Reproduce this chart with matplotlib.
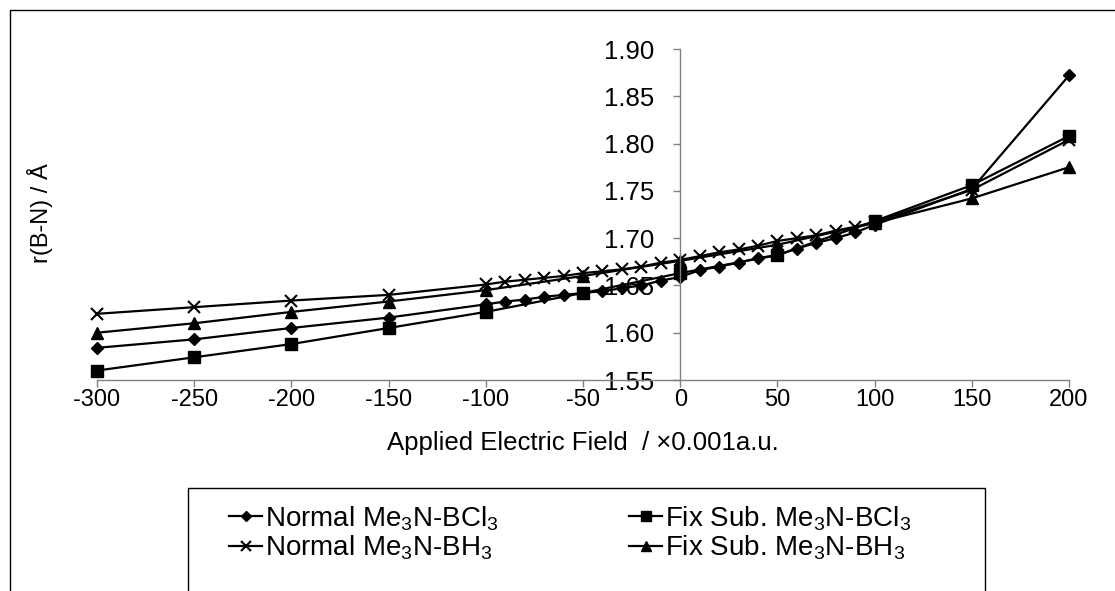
import matplotlib
matplotlib.use('Agg')
import matplotlib.pyplot as plt
from matplotlib.patches import Rectangle

plt.rcParams['font.family'] = ['Liberation Sans', 'DejaVu Sans']

# 电场强度 (x0.001 a.u.)
fine_x = [-300, -250, -200, -150, -100, -90, -80, -70, -60, -50, -40, -30, -20, -10,
          0, 10, 20, 30, 40, 50, 60, 70, 80, 90, 100, 150, 200]
coarse_x = [-300, -250, -200, -150, -100, -50, 0, 50, 100, 150, 200]

# r(B-N) / Å
normal_bcl3 = [1.584, 1.593, 1.605, 1.616, 1.630, 1.633, 1.635, 1.638, 1.640, 1.642,
               1.644, 1.647, 1.650, 1.655, 1.659, 1.666, 1.670, 1.674, 1.679, 1.682,
               1.689, 1.695, 1.700, 1.706, 1.714, 1.752, 1.872]
normal_bh3 = [1.620, 1.627, 1.634, 1.640, 1.651, 1.654, 1.656, 1.658, 1.660, 1.663,
              1.665, 1.667, 1.670, 1.674, 1.677, 1.681, 1.685, 1.688, 1.692, 1.697,
              1.700, 1.703, 1.708, 1.712, 1.717, 1.751, 1.804]
fix_bcl3 = [1.560, 1.574, 1.588, 1.605, 1.622, 1.642, 1.663, 1.682, 1.718, 1.756, 1.808]
fix_bh3 = [1.600, 1.610, 1.622, 1.633, 1.645, 1.660, 1.676, 1.693, 1.716, 1.742, 1.775]

x_ticks = list(range(-300, 201, 50))
y_ticks = [1.55, 1.60, 1.65, 1.70, 1.75, 1.80, 1.85, 1.90]

labels = ['Normal Me$_\\mathregular{3}$N-BCl$_\\mathregular{3}$',
          'Fix Sub. Me$_\\mathregular{3}$N-BCl$_\\mathregular{3}$',
          'Normal Me$_\\mathregular{3}$N-BH$_\\mathregular{3}$',
          'Fix Sub. Me$_\\mathregular{3}$N-BH$_\\mathregular{3}$']

W, H = 1115, 591
fig = plt.figure(figsize=(W / 100, H / 100), dpi=100)
ax = fig.add_axes([97 / W, 1 - 380 / H, 972 / W, 331 / H])

style = dict(color='black', lw=1.6, clip_on=False)
l1, = ax.plot(fine_x, normal_bcl3, marker='D', ms=6.5, label=labels[0], **style)
l2, = ax.plot(coarse_x, fix_bcl3, marker='s', ms=9, label=labels[1], **style)
l3, = ax.plot(fine_x, normal_bh3, marker='x', ms=9, mew=1.5, label=labels[2], **style)
l4, = ax.plot(coarse_x, fix_bh3, marker='^', ms=9, label=labels[3], **style)

ax.set_xlim(-300, 200)
ax.set_ylim(1.55, 1.90)
ax.set_xticks(x_ticks)
ax.set_xticklabels([str(v) for v in x_ticks])
ax.set_yticks(y_ticks)
ax.set_yticklabels(['%.2f' % v for v in y_ticks])
ax.set_axisbelow(True)

ax.spines['top'].set_visible(False)
ax.spines['right'].set_visible(False)
ax.spines['left'].set_position(('data', 0))
for s in ('left', 'bottom'):
    ax.spines[s].set_color('#808080')
    ax.spines[s].set_linewidth(1.0)
ax.tick_params(axis='x', direction='out', length=5, width=1, color='#808080',
               pad=1.5, labelsize=17)
ax.tick_params(axis='y', direction='out', length=5, width=1, color='#808080',
               pad=14, labelsize=18.5)

ax.set_xlabel('Applied Electric Field  / \u00d70.001a.u.', fontsize=18.5)
ax.xaxis.set_label_coords(0.5, (380 - 431) / 331)
fig.text(40 / W, 1 - 213 / H, 'r(B-N) / \u00c5', rotation=90, ha='center',
         va='center', fontsize=17)

# 外框和图例框
fig.add_artist(Rectangle((10 / W, -0.1), 1.2, 1 - 10 / H + 0.1, transform=fig.transFigure,
                         fill=False, edgecolor='black', lw=1))
fig.add_artist(Rectangle((188 / W, -0.1), (985 - 188) / W, 1 - 488 / H + 0.1,
                         transform=fig.transFigure, fill=False, edgecolor='black', lw=1))

leg_kw = dict(loc='upper left', frameon=False, fontsize=20, handlelength=1.2,
              handletextpad=0.1, borderpad=0, borderaxespad=0, labelspacing=0.02,
              markerscale=0.85)
fig.legend(handles=[l1, l3], bbox_to_anchor=(229 / W, 1 - 504 / H), **leg_kw)
fig.legend(handles=[l2, l4], bbox_to_anchor=(629 / W, 1 - 504 / H), **leg_kw)

fig.savefig('out.png', dpi=100)
